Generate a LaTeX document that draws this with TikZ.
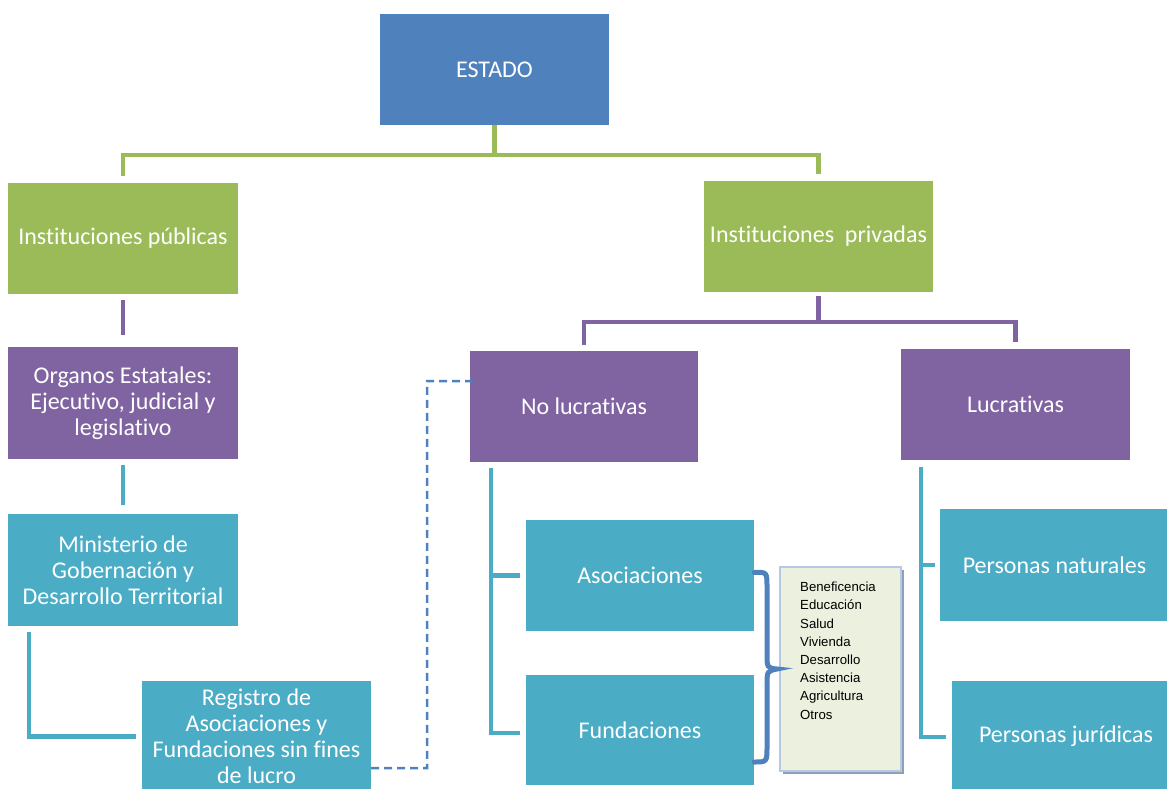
\documentclass[tikz,border=0pt]{standalone}
\usepackage{fontspec}
\setmainfont{Carlito}[Ligatures=NoCommon]
\newfontfamily\listfont{Liberation Sans}
\usetikzlibrary{calc}
\definecolor{cblue}{HTML}{4F81BD}
\definecolor{cgreen}{HTML}{9BBB59}
\definecolor{cpurple}{HTML}{8064A2}
\definecolor{cteal}{HTML}{4BACC6}
\definecolor{clistbg}{HTML}{EBF1DE}
\definecolor{clistborder}{HTML}{B7C9E2}
\definecolor{cshadow}{HTML}{8FA0B6}
\begin{document}
\begin{tikzpicture}[x=1pt,y=-1pt,
  box/.style={rectangle, inner sep=0pt, text=white, align=center,
    font=\fontsize{24}{26}\selectfont},
  gconn/.style={draw=cgreen, line width=4.5pt},
  pconn/.style={draw=cpurple, line width=4.5pt},
  tconn/.style={draw=cteal, line width=4.5pt},
  bconn/.style={draw=cblue, line width=2.5pt, dash pattern=on 8pt off 5pt},
  bracestyle/.style={draw=cblue, line width=5pt, line cap=round},
  listbox/.style={rectangle, inner sep=0pt, fill=clistbg, draw=clistborder, line width=2pt,
    anchor=north west},
  listtext/.style={anchor=north west, inner sep=0pt, align=left,
    font=\listfont\fontsize{13.2}{18.2}\selectfont, text=black}
]
\useasboundingbox (0,0) rectangle (1167,788);
% nodes
\node[box, fill=cblue, minimum width=229pt, minimum height=111pt] (estado) at (494.5,69.5) {ESTADO};
\node[box, fill=cgreen, minimum width=230pt, minimum height=111pt] (pub) at (123,238.5) {Instituciones públicas};
\node[box, fill=cgreen, minimum width=229pt, minimum height=111pt] (priv) at (818.5,236.5) {Instituciones\ \ privadas};
\node[box, fill=cpurple, minimum width=230pt, minimum height=112pt] (org) at (123,403) {Organos Estatales:\\Ejecutivo, judicial y\\legislativo};
\node[box, fill=cpurple, minimum width=228pt, minimum height=111pt] (nolucr) at (584,406.5) {No lucrativas};
\node[box, fill=cpurple, minimum width=229pt, minimum height=111pt] (lucr) at (1015.5,404.5) {Lucrativas};
\node[box, fill=cteal, minimum width=230pt, minimum height=112pt] (min) at (123,570) {Ministerio de\\Gobernación y\\Desarrollo Territorial};
\node[box, fill=cteal, minimum width=229pt, minimum height=111pt] (reg) at (256.5,736.5) {Registro de\\Asociaciones y\\Fundaciones sin fines\\de lucro};
\node[box, fill=cteal, minimum width=228pt, minimum height=111pt] (asoc) at (640,575.5) {Asociaciones};
\node[box, fill=cteal, minimum width=228pt, minimum height=110pt] (fund) at (640,730) {Fundaciones};
\node[box, fill=cteal, minimum width=229pt, minimum height=112pt] (pnat) at (1054.5,565) {Personas naturales};
\node[box, fill=cteal, minimum width=228pt, minimum height=111pt] (pjur) at (1066,736.5) {Personas jurídicas};
% list box with shadow
\fill[cshadow] (783,570) rectangle (904,774);
\node[listbox, minimum width=121pt, minimum height=204pt] (lst) at (779,566) {};
\node[listtext] (lsttext) at (800,582)
  {Beneficencia\\Educación\\Salud\\Vivienda\\Desarrollo\\Asistencia\\Agricultura\\Otros};
% green connectors
\draw[gconn] (estado.south) -- (estado.south |- 0,155) -| ($(pub.north)+(0,-7)$);
\draw[gconn] (estado.south |- 0,155) -| ($(priv.north)+(0,-7)$);
% purple connectors
\draw[pconn] ($(pub.south)+(0,6)$) -- ($(org.north)+(0,-12)$);
\draw[pconn] ($(priv.south)+(0,4)$) -- (priv.south |- 0,322) -| ($(nolucr.north)+(0,-6)$);
\draw[pconn] (priv.south |- 0,322) -| ($(lucr.north)+(0,-7)$);
% teal connectors
\draw[tconn] ($(org.south)+(0,6)$) -- ($(min.north)+(0,-9)$);
\draw[tconn] ($(min.south -| 29,0)+(0,6)$) |- ($(reg.west)+(-6,0)$);
\coordinate (nlx) at ($(nolucr.south -| 491,0)+(0,6)$);
\draw[tconn] (nlx) |- ($(fund.west)+(-6,3)$);
\draw[tconn] (nlx |- asoc.west) -- ($(asoc.west)+(-6,0)$);
\coordinate (lx) at ($(lucr.south -| 921,0)+(0,7)$);
\draw[tconn] (lx) |- ($(pjur.west)+(-6,0.5)$);
\draw[tconn] (lx |- pnat.west) -- ($(pnat.west)+(-5,0)$);
% dashed connector
\draw[bconn] ($(reg.south east)+(0,-24)$) -- (427,768) -- (427,381) -- ($(nolucr.west |- 0,381)+(8,0)$);
% brace
\draw[bracestyle] ($(asoc.east)+(0,-3)$) .. controls (767,572) .. (767,588) -- (767,652)
  .. controls (767,668) .. (777,669) .. controls (767,671) .. (767,686) -- (767,746)
  .. controls (767,762) .. ($(fund.east)+(0,32)$);
\end{tikzpicture}
\end{document}
